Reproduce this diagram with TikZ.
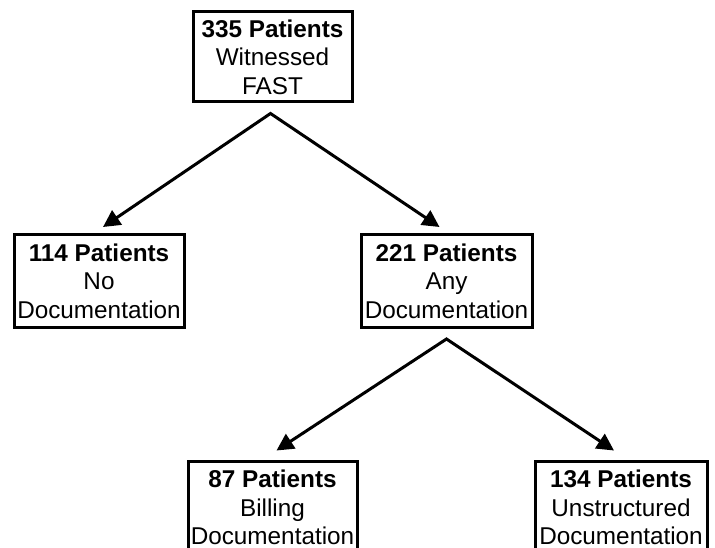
\documentclass[tikz,border=0pt]{standalone}
\usepackage{fontspec}
\setmainfont{Liberation Sans}
\usetikzlibrary{arrows.meta}
\tikzset{
  box/.style={draw=black, line width=3pt, fill=white, align=center, inner sep=0pt,
    font=\fontsize{24.3}{28.5}\selectfont},
  conn/.style={line width=3pt, line join=miter,
    {Triangle[length=17pt,width=17pt]}-{Triangle[length=17pt,width=17pt]}},
}
\begin{document}
\begin{tikzpicture}[x=1pt,y=-1pt]
\useasboundingbox (0,0) rectangle (715,548);
\clip (0,0) rectangle (715,548);
\node[box, minimum width=159pt, minimum height=90pt] (top) at (272.5,57)
  {\textbf{335 Patients}\\Witnessed\\FAST};
\node[box, minimum width=170pt, minimum height=93pt] (left) at (99,281)
  {\textbf{114 Patients}\\No\\Documentation};
\node[box, minimum width=171pt, minimum height=93pt] (mid) at (446.5,281)
  {\textbf{221 Patients}\\Any\\Documentation};
\node[box, minimum width=169pt, minimum height=93pt] (bl) at (272.5,507.5)
  {\textbf{87 Patients}\\Billing\\Documentation};
\node[box, minimum width=172pt, minimum height=93pt] (br) at (621,507.5)
  {\textbf{134 Patients}\\Unstructured\\Documentation};
\coordinate (a1) at ([xshift=-2pt,yshift=-10pt]top.south);
\coordinate (a2) at ([xshift=0pt,yshift=-10pt]mid.south);
\draw[conn] ([xshift=4pt,yshift=6pt]left.north) -- (a1) -- ([xshift=-7pt,yshift=6pt]mid.north);
\draw[conn] ([xshift=4pt,yshift=9pt]bl.north) -- (a2) -- ([xshift=-7pt,yshift=9pt]br.north);
\end{tikzpicture}
\end{document}
